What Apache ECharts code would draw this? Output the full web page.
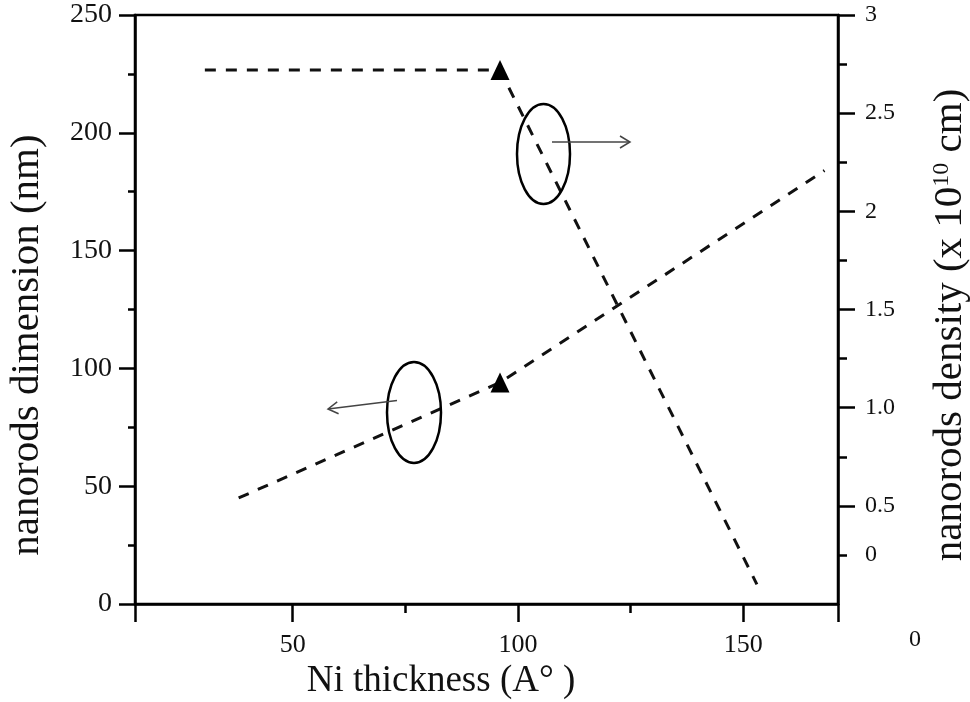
<!DOCTYPE html>
<html>
<head>
<meta charset="utf-8">
<script src="https://cdn.jsdelivr.net/npm/echarts@6/dist/echarts.min.js"></script>
<style>
html,body{margin:0;padding:0;background:#fff;}
#chart{width:970px;height:702px;}
</style>
</head>
<body>
<div id="chart"></div>
<script>
// ---- data ----
const thicknessDim = [38, 96, 168];        // Ni thickness (A°) for dimension line
const dimensionNm  = [45, 94, 184];        // nanorods dimension (nm), left axis
const thicknessDen = [30.5, 96, 153];      // Ni thickness (A°) for density line
const densityVal   = [2.72, 2.72, 0.1];    // nanorods density, right axis
const markerIndex  = 1;                    // measured point shown with a triangle

const xMajorTicks  = [15, 50, 100, 150, 171];
const xLabelValues = [50, 100, 150];
const xMinorTicks  = [75, 125];
const densityLabelValues = [0.25, 0.5, 1, 1.5, 2, 2.5, 3];
const densityLabelTexts  = ['0', '0.5', '1.0', '1.5', '2', '2.5', '3'];
const densityMajorTicks  = [0.5, 1, 1.5, 2, 2.5, 3];

const FONT = "'Liberation Serif','Times New Roman',serif";
const chart = echarts.init(document.getElementById('chart'), null, {renderer: 'canvas'});

const lineStyle = {color: '#111', width: 3, type: [11, 10]};
function build(xs, ys) {
  return xs.map((x, i) => ({value: [x, ys[i]], symbol: i === markerIndex ? 'triangle' : 'none'}));
}

const option = {
  animation: false,
  backgroundColor: '#fff',
  grid: {left: 135, right: 132, top: 15, bottom: 98, show: true, borderColor: '#000', borderWidth: 2.5, backgroundColor: 'transparent'},
  xAxis: [{
    type: 'value', min: 15, max: 171, position: 'bottom',
    axisLine: {onZero: false, lineStyle: {color: '#000', width: 2.5}},
    axisTick: {customValues: xMajorTicks, length: 18, lineStyle: {color: '#000', width: 2.5}},
    axisLabel: {customValues: xLabelValues, color: '#111', fontFamily: FONT, fontSize: 26, margin: 28},
    splitLine: {show: false}
  }, {
    type: 'value', min: 15, max: 171, position: 'bottom',
    axisLine: {show: false},
    axisTick: {customValues: xMinorTicks, length: 9, lineStyle: {color: '#000', width: 2.5}},
    axisLabel: {show: false},
    splitLine: {show: false}
  }],
  yAxis: [{
    type: 'value', min: 0, max: 250, interval: 50, position: 'left',
    axisLine: {show: true, onZero: false, lineStyle: {color: '#000', width: 2.5}},
    axisTick: {show: true, length: 16, lineStyle: {color: '#000', width: 2.5}},
    minorTick: {show: true, splitNumber: 2, length: 7, lineStyle: {color: '#000', width: 2.5}},
    axisLabel: {color: '#111', fontFamily: FONT, fontSize: 28, margin: 23, padding: [8, 0, 0, 0]},
    splitLine: {show: false}
  }, {
    type: 'value', min: 0, max: 3, interval: 0.5, position: 'right',
    axisLine: {show: true, onZero: false, lineStyle: {color: '#000', width: 2.5}},
    axisTick: {show: true, customValues: densityMajorTicks, length: 17, lineStyle: {color: '#000', width: 2.5}},
    minorTick: {show: true, splitNumber: 2, length: 9, lineStyle: {color: '#000', width: 2.5}},
    axisLabel: {
      customValues: densityLabelValues, color: '#111', fontFamily: FONT, fontSize: 24, margin: 27,
      formatter: v => { const i = densityLabelValues.indexOf(v); return i >= 0 ? densityLabelTexts[i] : ''; }
    },
    splitLine: {show: false}
  }],
  series: [{
    name: 'nanorods dimension', type: 'line', xAxisIndex: 0, yAxisIndex: 0,
    data: build(thicknessDim, dimensionNm),
    symbolSize: [19, 20], itemStyle: {color: '#000'}, lineStyle: lineStyle, silent: true, z: 3
  }, {
    name: 'nanorods density', type: 'line', xAxisIndex: 0, yAxisIndex: 1,
    data: build(thicknessDen, densityVal),
    symbolSize: [19, 20], itemStyle: {color: '#000'}, lineStyle: lineStyle, silent: true, z: 3
  }],
  graphic: [
    {type: 'text', x: 27, y: 345, rotation: Math.PI / 2,
     style: {text: 'nanorods dimension (nm)', font: '41px ' + FONT, fill: '#111', align: 'center', verticalAlign: 'middle'}},
    {type: 'text', x: 950, y: 325, rotation: Math.PI / 2,
     style: {text: 'nanorods density (x 10{sup|10} cm)', font: '41px ' + FONT, fill: '#111', align: 'center', verticalAlign: 'middle',
             rich: {sup: {fontSize: 24, fontFamily: FONT, verticalAlign: 'top', padding: [0, 0, 14, 0]}}}},
    {type: 'text', x: 441, y: 681,
     style: {text: 'Ni thickness (A° )', font: '37px ' + FONT, fill: '#111', align: 'center', verticalAlign: 'middle'}},
    {type: 'text', x: 915, y: 640,
     style: {text: '0', font: '24px ' + FONT, fill: '#111', align: 'center', verticalAlign: 'middle'}},
    {type: 'ellipse', shape: {cx: 543.5, cy: 154, rx: 26.5, ry: 50}, style: {fill: 'none', stroke: '#000', lineWidth: 2.5}, z: 10},
    {type: 'ellipse', shape: {cx: 414, cy: 412.5, rx: 27, ry: 50.5}, style: {fill: 'none', stroke: '#000', lineWidth: 2.5}, z: 10},
    {type: 'line', shape: {x1: 552, y1: 142, x2: 630, y2: 142}, style: {stroke: '#444', lineWidth: 1.5}, z: 10},
    {type: 'polyline', shape: {points: [[620, 136], [630, 142], [620, 148]]}, style: {stroke: '#444', lineWidth: 1.5, fill: 'none'}, z: 10},
    {type: 'line', shape: {x1: 397, y1: 400.5, x2: 328, y2: 409}, style: {stroke: '#444', lineWidth: 1.5}, z: 10},
    {type: 'polyline', shape: {points: [[338.6, 413.7], [328, 409], [337.2, 401.8]]}, style: {stroke: '#444', lineWidth: 1.5, fill: 'none'}, z: 10}
  ]
};
chart.setOption(option);
</script>
</body>
</html>
